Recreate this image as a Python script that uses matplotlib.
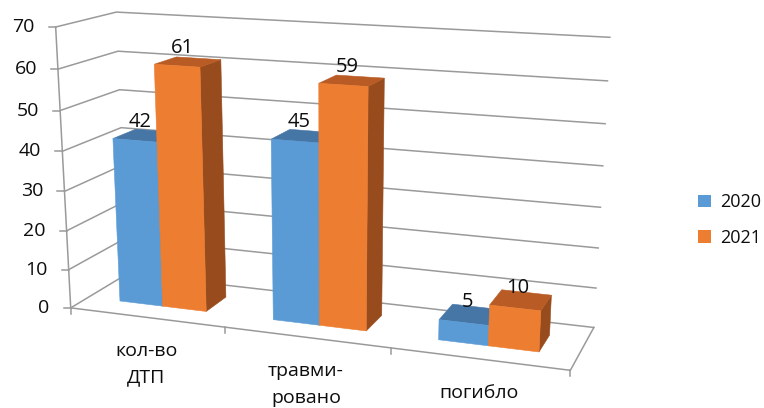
import matplotlib.pyplot as plt
from matplotlib.patches import Polygon, Patch
import numpy as np

plt.rcParams['font.family'] = ['Open Sans', 'DejaVu Sans']

categories = ["кол-во\nДТП", "травми-\nровано", "погибло"]
years = ["2020", "2021"]
values_2020 = [42, 45, 5]
values_2021 = [61, 59, 10]
y_ticks = [0, 10, 20, 30, 40, 50, 60, 70]
y_max = 70

front_colors = ['#5B9BD5', '#ED7D31']
top_colors = ['#4676A6', '#B95B24']
side_colors = ['#3D6796', '#984C1E']
grid_color = '#9A9A9A'
text_color = '#0d0d0d'

# box corners as (category, value/ymax, depth) -> pixel, to build the perspective
frame_world = [(0, 0, 0), (0, 1, 0), (0, 1, 1), (3, 1, 1), (3, 0, 1), (3, 0, 0),
               (1, 0, 0), (2, 0, 0), (0, 6 / 7, 1), (0, 6 / 7, 0), (0, 1 / 7, 0)]
frame_px = [(71, 308), (57, 27), (117, 12), (610, 37), (594, 327), (570, 370),
            (226, 328), (390, 349), (117, 52), (56.5, 69), (68, 268)]


def fit_camera(world, px):
    rows, rhs = [], []
    for (X, Y, Z), (u, v) in zip(world, px):
        rows.append([X, Y, Z, 1, 0, 0, 0, 0, -u * X, -u * Y, -u * Z])
        rhs.append(u)
        rows.append([0, 0, 0, 0, X, Y, Z, 1, -v * X, -v * Y, -v * Z])
        rhs.append(v)
    p = np.linalg.lstsq(np.array(rows, float), np.array(rhs, float), rcond=None)[0]
    return np.append(p, 1).reshape(3, 4)


cam = fit_camera(frame_world, frame_px)


def project(x, y, z):
    h = cam @ np.array([x, y / y_max, z, 1.0])
    return h[0] / h[2], h[1] / h[2]


fig = plt.figure(figsize=(7.64, 4.08), dpi=100)
ax = fig.add_axes([0, 0, 1, 1])
ax.set_xlim(0, 764)
ax.set_ylim(408, 0)
ax.axis('off')

n_cat = len(categories)

# walls: left + back gridlines
for t in y_ticks:
    pts = [project(0, t, 0), project(0, t, 1), project(n_cat, t, 1)]
    ax.plot([p[0] for p in pts], [p[1] for p in pts], color=grid_color, lw=1.1, zorder=1)
    u, v = project(0, t, 0)
    ax.plot([u - 7, u], [v, v], color=grid_color, lw=1.1, zorder=1)
    ax.text(u - 21, v, str(t), ha='right', va='center', fontsize=14, color=text_color)

# floor outline and value axis
pts = [project(0, 0, 0), project(n_cat, 0, 0), project(n_cat, 0, 1)]
ax.plot([p[0] for p in pts], [p[1] for p in pts], color=grid_color, lw=1.1, zorder=1)
a, b = project(0, 0, 0), project(0, y_max, 0)
ax.plot([a[0], b[0]], [a[1], b[1]], color=grid_color, lw=1.1, zorder=1)
for k in range(n_cat + 1):
    u, v = project(k, 0, 0)
    ax.plot([u, u], [v, v + 6], color=grid_color, lw=1.1, zorder=1)

# bars
width = 1 / 3.5
z0, z1 = 0.3, 0.7
series = [values_2020, values_2021]
for c in range(n_cat):
    for s, vals in enumerate(series):
        val = vals[c]
        x0 = c + 0.5 - width + s * width
        x1 = x0 + width
        side = [project(x1, 0, z0), project(x1, 0, z1), project(x1, val, z1), project(x1, val, z0)]
        top = [project(x0, val, z0), project(x1, val, z0), project(x1, val, z1), project(x0, val, z1)]
        front = [project(x0, 0, z0), project(x1, 0, z0), project(x1, val, z0), project(x0, val, z0)]
        for poly, col in [(side, side_colors[s]), (top, top_colors[s]), (front, front_colors[s])]:
            ax.add_patch(Polygon(poly, closed=True, facecolor=col, edgecolor=col, lw=0.4, zorder=2))
        lx, ly = project((x0 + x1) / 2, val, z0 + (z1 - z0) / 4)
        ax.annotate(str(val), (lx, ly), xytext=(0, 8), textcoords='offset points',
                    ha='center', va='baseline', fontsize=14.5, color=text_color, zorder=3)

# category labels
for c, name in enumerate(categories):
    u, v = project(c + 0.5, 0, 0)
    ax.annotate(name, (u, v), xytext=(0, -18), textcoords='offset points',
                ha='center', va='top', fontsize=14, linespacing=1.6, color=text_color)

handles = [Patch(facecolor=front_colors[i], edgecolor='none', label=years[i]) for i in range(2)]
ax.legend(handles=handles, loc='center left', bbox_to_anchor=(698, 220),
          bbox_transform=ax.transData, frameon=False, fontsize=13,
          handlelength=0.7, handleheight=0.7, handletextpad=0.55,
          labelspacing=0.95, borderpad=0, borderaxespad=0, labelcolor=text_color)

fig.savefig('out.png', dpi=100)
